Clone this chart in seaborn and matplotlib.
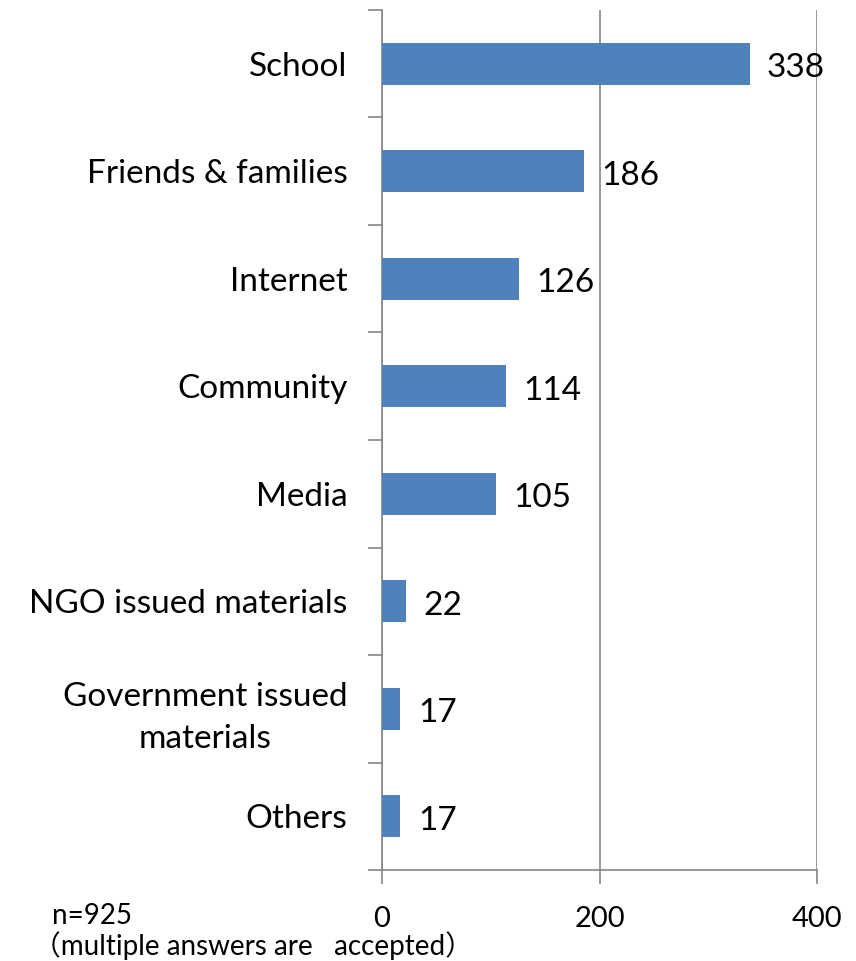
import matplotlib
matplotlib.use("Agg")
import matplotlib.pyplot as plt
import seaborn as sns
import pandas as pd

sources = ["School", "Friends & families", "Internet", "Community", "Media",
           "NGO issued materials", "Government issued\nmaterials", "Others"]
counts = [338, 186, 126, 114, 105, 22, 17, 17]
x_ticks = [0, 200, 400]

sns.set_theme(style="white")
plt.rcParams["font.family"] = ["Lato", "Noto Sans CJK JP", "DejaVu Sans"]
plt.rcParams["text.color"] = "black"
plt.rcParams["xtick.labelcolor"] = "black"
plt.rcParams["ytick.labelcolor"] = "black"

df = pd.DataFrame({"source": sources, "count": counts})

fig = plt.figure(figsize=(8.56, 9.61), dpi=100)
ax = fig.add_axes([382 / 856, 1 - 870 / 961, 435 / 856, 860 / 961])

sns.barplot(data=df, y="source", x="count", orient="h", color="#4F81BD",
            saturation=1, width=0.39, ax=ax, zorder=3, linewidth=0)

ax.set_xlim(0, 400)
ax.set_ylim(len(sources) - 0.5, -0.5)
ax.set_xticks(x_ticks)
ax.set_xticklabels([str(t) for t in x_ticks])
ax.set_xlabel("")
ax.set_ylabel("")

# vertical gridlines at major x ticks
ax.grid(axis="x", color="#868686", linewidth=1.2, zorder=0)
ax.grid(axis="y", visible=False)

for side in ["top", "right"]:
    ax.spines[side].set_visible(False)
for side in ["left", "bottom"]:
    ax.spines[side].set_color("#868686")
    ax.spines[side].set_linewidth(1.2)

# category labels between boundary tick marks
ax.set_yticks(range(len(sources)))
ax.set_yticklabels(sources, fontsize=24, linespacing=1.5, color="black")
ax.tick_params(axis="y", which="major", left=True, length=0, pad=25)
boundaries = [i - 0.5 for i in range(len(sources) + 1)]
ax.set_yticks(boundaries, minor=True)
ax.tick_params(axis="y", which="minor", left=True, length=10, width=1.2,
               color="#868686", direction="out")
ax.tick_params(axis="x", bottom=True, length=10, width=1.2, color="#868686",
               direction="out", labelsize=21, pad=16)
for lbl in ax.get_yticklabels():
    lbl.set_multialignment("center")

# value labels at bar ends
for i, v in enumerate(counts):
    ax.text(v + 16, i + 0.04, str(v), va="center", ha="left", fontsize=24,
            color="black", zorder=4)

fig.text(52 / 856, 1 - 916 / 961, "n=925", fontsize=20, ha="left", va="center")
fig.text(33 / 856, 1 - 946 / 961, "（multiple answers are   accepted）",
         fontsize=20, ha="left", va="center")

fig.savefig("out.png", dpi=100)
